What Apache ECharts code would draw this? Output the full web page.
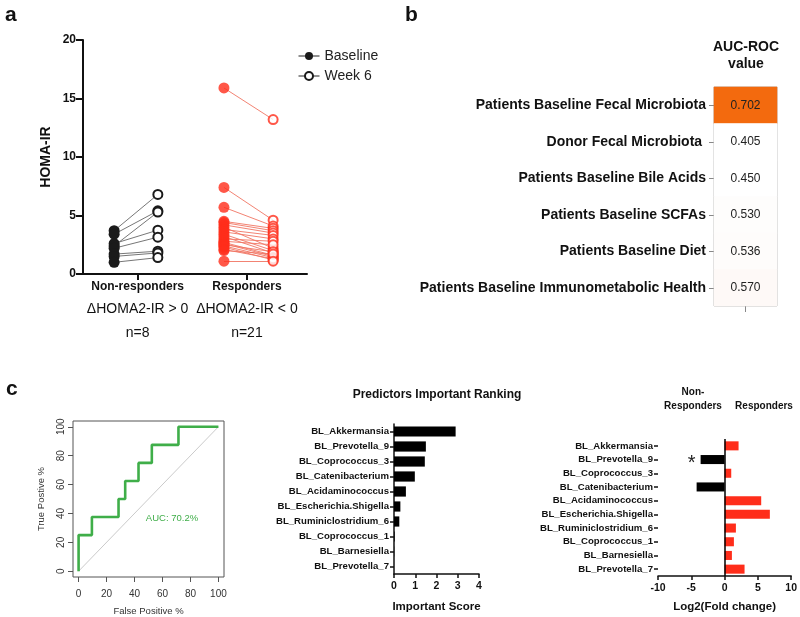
<!DOCTYPE html>
<html><head><meta charset="utf-8">
<script src="https://cdn.jsdelivr.net/npm/echarts@6/dist/echarts.min.js"></script>
<style>html,body{margin:0;padding:0;background:#fff}#c{width:800px;height:617px}</style>
</head><body><div id="c"></div>
<script>
// ---------- Panel a : HOMA-IR ----------
const nrBaseline = [3.7, 3.4, 2.4, 2.6, 2.2, 1.7, 1.5, 1.0];
const nrWeek6    = [6.8, 5.4, 5.3, 3.75, 3.15, 1.95, 1.8, 1.4];
const rBaseline  = [15.9, 7.4, 5.7, 4.5, 4.4, 4.2, 4.0, 3.8, 3.6, 3.4, 3.2, 3.0, 2.8, 2.7, 2.6, 2.5, 2.4, 2.3, 2.1, 2.0, 1.1];
const rWeek6     = [13.2, 4.6, 4.1, 3.9, 3.7, 3.5, 2.2, 3.3, 3.0, 2.0, 1.8, 2.8, 2.5, 1.6, 1.5, 1.9, 1.4, 1.2, 1.3, 1.7, 1.1];
const groupLabels   = ['Non-responders', 'Responders'];
const groupCriteria = ['\u0394HOMA2-IR > 0', '\u0394HOMA2-IR < 0'];
const groupN        = ['n=8', 'n=21'];
const homaTicks     = [0, 5, 10, 15, 20];

// ---------- Panel b : AUC-ROC ----------
const aucSources = ['Patients Baseline Fecal Microbiota', 'Donor Fecal Microbiota ', 'Patients Baseline Bile Acids',
  'Patients Baseline SCFAs', 'Patients Baseline Diet', 'Patients Baseline Immunometabolic Health'];
const aucValues = [0.702, 0.405, 0.450, 0.530, 0.536, 0.570];

// ---------- Panel c : ROC curve ----------
const rocFpr = [0, 0, 9.52, 9.52, 28.57, 28.57, 33.33, 33.33, 42.86, 42.86, 52.38, 52.38, 71.43, 71.43, 100];
const rocTpr = [0, 25, 25, 37.5, 37.5, 50, 50, 62.5, 62.5, 75, 75, 87.5, 87.5, 100, 100];
const chanceLine = [0, 100];
const rocTicks = [0, 20, 40, 60, 80, 100];

// ---------- Panel c : predictors ----------
const predictors = ['BL_Akkermansia', 'BL_Prevotella_9', 'BL_Coprococcus_3', 'BL_Catenibacterium', 'BL_Acidaminococcus',
  'BL_Escherichia.Shigella', 'BL_Ruminiclostridium_6', 'BL_Coprococcus_1', 'BL_Barnesiella', 'BL_Prevotella_7'];
const importanceScores = [2.9, 1.5, 1.45, 0.98, 0.56, 0.3, 0.25, 0.03, 0.01, 0];
const log2FoldChange   = [2.1, -3.6, 1.0, -4.2, 5.5, 6.8, 1.7, 1.4, 1.1, 3.0];
const significant      = [false, true, false, false, false, false, false, false, false, false];

// ---------- layout / style ----------
const F = 'Liberation Sans, Arial, sans-serif';
const RED = '#ff2d1a', BLK = '#1a1a1a';
const X_NR_B = 0.57, X_NR_W = 1.37, X_R_B = 2.58, X_R_W = 3.48;

const chart = echarts.init(document.getElementById('c'), null, {renderer: 'canvas'});

function txt(text, x, y, size, opts) {
  return Object.assign({type: 'text', x: x, y: y, silent: true,
    style: Object.assign({text: text, fontFamily: F, fontSize: size, fontWeight: 'bold', fill: '#111',
      textAlign: 'center', textVerticalAlign: 'middle'}, opts || {})});
}

const option = {
  backgroundColor: '#fff',
  animation: false,
  textStyle: {fontFamily: F},
  grid: [
    {left: 83, top: 40, width: 224, height: 234},
    {left: 714, top: 87, width: 63, height: 219, show: true, borderColor: '#b5b5b5', borderWidth: 1},
    {left: 73, top: 421, width: 151, height: 156, show: true, borderColor: '#555', borderWidth: 1},
    {left: 394, top: 424, width: 85, height: 150},
    {left: 658, top: 439, width: 135, height: 137}
  ],
  legend: {
    data: [{name: 'Baseline'}, {name: 'Week 6'}],
    orient: 'vertical', left: 293, top: 44, itemWidth: 21, itemHeight: 10, itemGap: 6,
    selectedMode: false,
    textStyle: {fontSize: 14, color: '#222', fontFamily: F},
    lineStyle: {width: 1, opacity: 1, color: '#222'}
  },
  visualMap: {
    show: false, type: 'continuous', seriesIndex: 6, dimension: 2, min: 0.4, max: 0.702,
    inRange: {color: ['#ffffff', '#ffffff', '#fdf7f4', '#f36a0e']}
  },
  xAxis: [
    {gridIndex: 0, type: 'value', min: 0, max: 4.1,
      axisLine: {show: true, onZero: false, lineStyle: {color: '#111', width: 2}},
      axisTick: {show: true, customValues: [1, 3], length: 6, lineStyle: {color: '#111', width: 2}},
      splitLine: {show: false},
      axisLabel: {customValues: [1, 3], margin: 3,
        formatter: function (v) { const i = v < 2 ? 0 : 1;
          return '{b|' + groupLabels[i] + '}\n{d|' + groupCriteria[i] + '}\n{d|' + groupN[i] + '}'; },
        rich: {b: {fontFamily: F, fontWeight: 'bold', fontSize: 12, color: '#111', lineHeight: 20},
               d: {fontFamily: F, fontSize: 14, color: '#111', lineHeight: 24}}}},
    {gridIndex: 1, type: 'category', data: ['AUC-ROC value'],
      axisLine: {show: false}, axisLabel: {show: false},
      axisTick: {show: true, alignWithLabel: true, length: 6, lineStyle: {color: '#888'}}},
    {gridIndex: 2, type: 'value', min: -4, max: 104,
      axisLine: {show: false, onZero: false}, splitLine: {show: false},
      axisTick: {show: true, customValues: rocTicks, length: 5, lineStyle: {color: '#555'}},
      axisLabel: {customValues: rocTicks, fontSize: 10, color: '#333', margin: 12},
      name: 'False Positive %', nameLocation: 'middle', nameGap: 29,
      nameTextStyle: {fontSize: 9.5, color: '#333', fontFamily: F}},
    {gridIndex: 3, type: 'value', min: 0, max: 4, interval: 1,
      axisLine: {show: true, onZero: false, lineStyle: {color: '#111', width: 1.5}},
      axisTick: {show: true, length: 4, lineStyle: {color: '#111', width: 1.5}},
      splitLine: {show: false},
      axisLabel: {fontSize: 10.5, fontWeight: 'bold', color: '#111', margin: 7},
      name: 'Important Score', nameLocation: 'middle', nameGap: 27,
      nameTextStyle: {fontSize: 11.5, fontWeight: 'bold', color: '#111', fontFamily: F}},
    {gridIndex: 4, type: 'value', min: -10, max: 10, interval: 5,
      axisLine: {show: true, onZero: false, lineStyle: {color: '#111', width: 1.5}},
      axisTick: {show: true, length: 4, lineStyle: {color: '#111', width: 1.5}},
      splitLine: {show: false},
      axisLabel: {fontSize: 10.5, fontWeight: 'bold', color: '#111', margin: 7},
      name: 'Log2(Fold change)', nameLocation: 'middle', nameGap: 25,
      nameTextStyle: {fontSize: 11.5, fontWeight: 'bold', color: '#111', fontFamily: F}}
  ],
  yAxis: [
    {gridIndex: 0, type: 'value', min: homaTicks[0], max: homaTicks[homaTicks.length - 1], interval: 5,
      axisLine: {show: true, onZero: false, lineStyle: {color: '#111', width: 2}},
      axisTick: {show: true, length: 7, lineStyle: {color: '#111', width: 2}},
      splitLine: {show: false},
      axisLabel: {fontSize: 12, fontWeight: 'bold', color: '#111', margin: 7},
      name: 'HOMA-IR', nameLocation: 'middle', nameGap: 30,
      nameTextStyle: {fontSize: 14, fontWeight: 'bold', color: '#111', fontFamily: F}},
    {gridIndex: 1, type: 'category', data: aucSources, inverse: true,
      axisLine: {show: false},
      axisTick: {show: true, alignWithLabel: true, length: 5, interval: 0, lineStyle: {color: '#888'}},
      axisLabel: {fontSize: 14, fontWeight: 'bold', color: '#111', margin: 8, interval: 0}},
    {gridIndex: 2, type: 'value', min: -4, max: 104,
      axisLine: {show: false, onZero: false}, splitLine: {show: false},
      axisTick: {show: true, customValues: rocTicks, length: 5, lineStyle: {color: '#555'}},
      axisLabel: {customValues: rocTicks, fontSize: 10, color: '#333', margin: 7, rotate: 90},
      name: 'True Postive %', nameLocation: 'middle', nameGap: 27,
      nameTextStyle: {fontSize: 9.5, color: '#333', fontFamily: F}},
    {gridIndex: 3, type: 'category', data: predictors, inverse: true,
      axisLine: {show: true, onZero: false, lineStyle: {color: '#111', width: 1.5}},
      axisTick: {show: true, alignWithLabel: true, length: 4, interval: 0, lineStyle: {color: '#111', width: 1.5}},
      axisLabel: {fontSize: 9.6, fontWeight: 'bold', color: '#111', margin: 5, interval: 0}},
    {gridIndex: 4, type: 'category', data: predictors, inverse: true,
      axisLine: {show: false, onZero: false},
      axisTick: {show: true, alignWithLabel: true, length: 4, interval: 0, lineStyle: {color: '#111', width: 1.5}},
      axisLabel: {fontSize: 9.6, fontWeight: 'bold', color: '#111', margin: 5, interval: 0}}
  ],
  series: [
    {type: 'lines', coordinateSystem: 'cartesian2d', xAxisIndex: 0, yAxisIndex: 0, silent: true, z: 1,
      lineStyle: {color: '#666', width: 0.9, opacity: 1},
      data: nrBaseline.map((b, i) => ({coords: [[X_NR_B, b], [X_NR_W, nrWeek6[i]]]}))},
    {type: 'lines', coordinateSystem: 'cartesian2d', xAxisIndex: 0, yAxisIndex: 0, silent: true, z: 1,
      lineStyle: {color: '#f07563', width: 0.9, opacity: 1},
      data: rBaseline.map((b, i) => ({coords: [[X_R_B, b], [X_R_W, rWeek6[i]]]}))},
    {name: 'Baseline', type: 'line', xAxisIndex: 0, yAxisIndex: 0, z: 3,
      symbol: 'circle', symbolSize: 11, itemStyle: {color: BLK},
      lineStyle: {width: 0, opacity: 0},
      data: nrBaseline.map(v => [X_NR_B, v])},
    {name: 'Week 6', type: 'line', xAxisIndex: 0, yAxisIndex: 0, z: 3,
      symbol: 'emptyCircle', symbolSize: 9, itemStyle: {color: BLK, borderWidth: 2.4},
      lineStyle: {width: 0, opacity: 0},
      data: nrWeek6.map(v => [X_NR_W, v])},
    {name: 'Responders baseline', type: 'scatter', xAxisIndex: 0, yAxisIndex: 0, z: 3,
      symbol: 'circle', symbolSize: 11, itemStyle: {color: RED},
      data: rBaseline.map(v => [X_R_B, v])},
    {name: 'Responders week 6', type: 'scatter', xAxisIndex: 0, yAxisIndex: 0, z: 3,
      symbol: 'emptyCircle', symbolSize: 9, itemStyle: {color: RED, borderWidth: 2.4},
      data: rWeek6.map(v => [X_R_W, v])},
    {name: 'AUC', type: 'heatmap', xAxisIndex: 1, yAxisIndex: 1,
      data: aucValues.map((v, i) => [0, i, v]),
      label: {show: true, fontSize: 12, color: '#222', fontFamily: F,
        formatter: p => p.value[2].toFixed(3)}},
    {name: 'Chance', type: 'line', xAxisIndex: 2, yAxisIndex: 2, symbol: 'none', silent: true,
      lineStyle: {color: '#bdbdbd', width: 0.8},
      data: chanceLine.map(v => [v, v])},
    {name: 'ROC', type: 'line', xAxisIndex: 2, yAxisIndex: 2, symbol: 'none', silent: true,
      lineStyle: {color: '#3fae49', width: 2.6},
      data: rocFpr.map((x, i) => [x, rocTpr[i]])},
    {name: 'Importance', type: 'bar', xAxisIndex: 3, yAxisIndex: 3, barCategoryGap: '32%',
      itemStyle: {color: '#000'}, data: importanceScores},
    {name: 'Log2FC', type: 'bar', xAxisIndex: 4, yAxisIndex: 4, barCategoryGap: '34%',
      itemStyle: {color: p => p.value < 0 ? '#000' : RED},
      label: {show: true, position: 'left', distance: 5, offset: [0, 4], fontSize: 20, color: '#222',
        fontFamily: F, formatter: p => significant[p.dataIndex] ? '*' : ''},
      markLine: {silent: true, symbol: ['none', 'none'], label: {show: false},
        lineStyle: {color: '#000', width: 1.5, type: 'solid'}, data: [{xAxis: 0}]},
      data: log2FoldChange}
  ],
  graphic: [
    txt('a', 5, 15.6, 21, {textAlign: 'left'}),
    txt('b', 405, 15.6, 21, {textAlign: 'left'}),
    txt('c', 6, 389.6, 21, {textAlign: 'left'}),
    txt('AUC-ROC', 746, 47, 14),
    txt('value', 746, 64, 14),
    txt('Predictors Important Ranking', 437, 395, 12),
    txt('Non-', 693, 392, 10),
    txt('Responders', 693, 406, 10),
    txt('Responders', 764, 406, 10),
    txt('AUC: 70.2%', 172, 518, 9.5, {fontWeight: 'normal', fill: '#3fae49'})
  ]
};
chart.setOption(option);
</script></body></html>
